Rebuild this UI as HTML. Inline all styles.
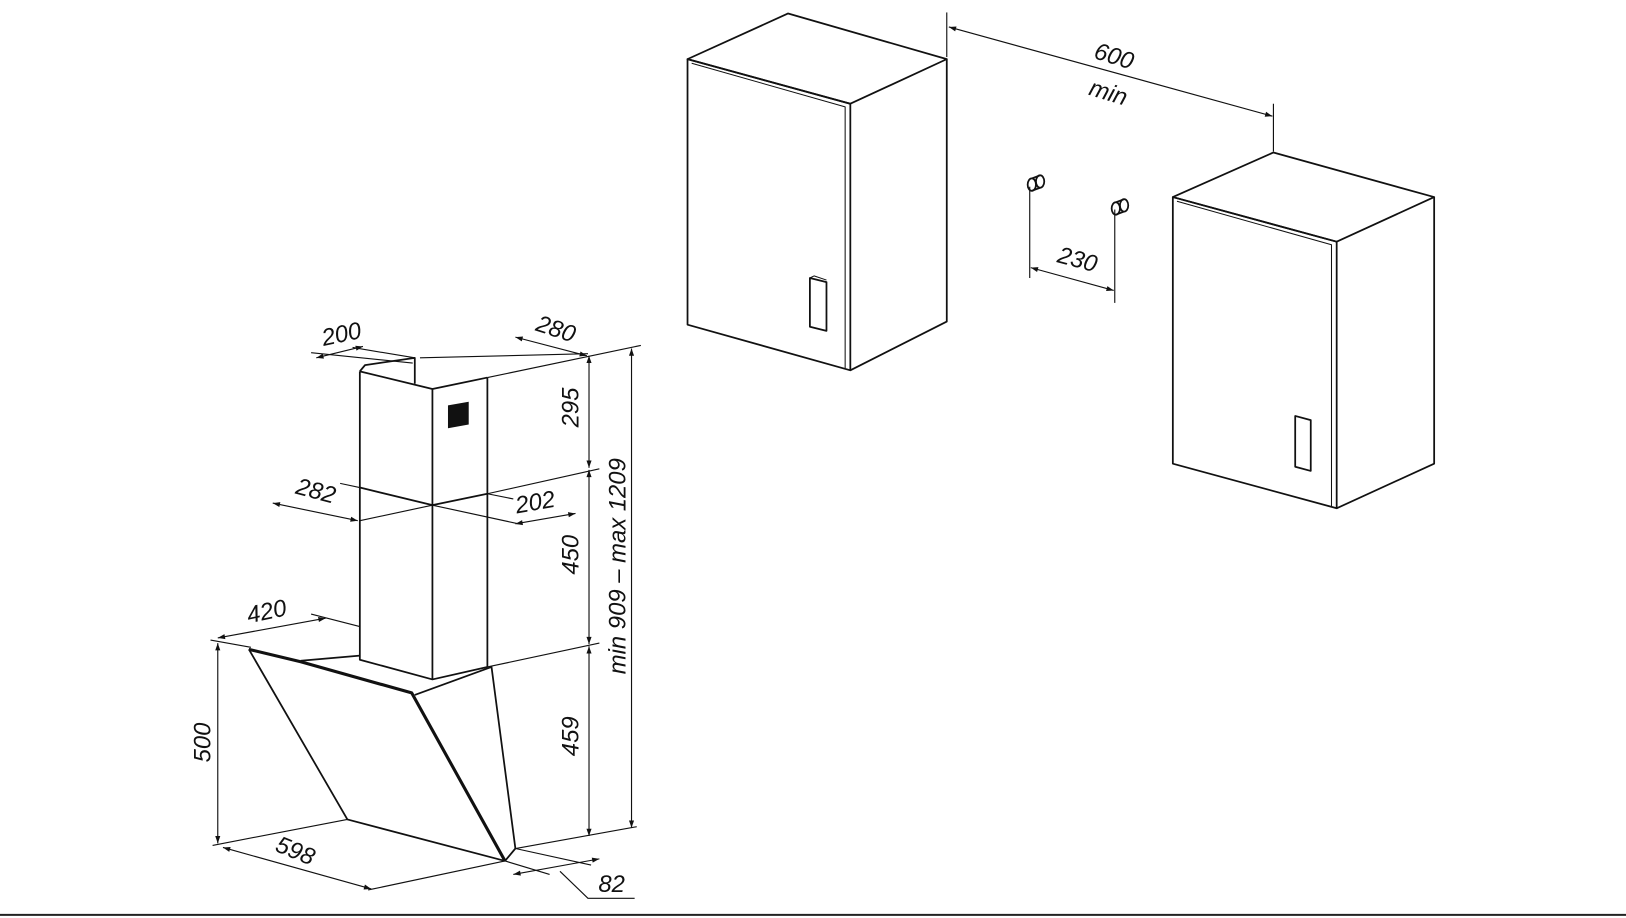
<!DOCTYPE html>
<html><head><meta charset="utf-8"><style>
html,body{margin:0;padding:0;background:#fff;overflow:hidden}
svg{display:block}
text{font-family:"Liberation Sans Narrow","Liberation Sans",sans-serif;font-style:italic;fill:#111;font-size:23px}
</style></head><body>
<svg width="1626" height="918" viewBox="0 0 1568 885" preserveAspectRatio="none" xmlns="http://www.w3.org/2000/svg">
<defs>
<marker id="a" viewBox="0 0 10 10" refX="10" refY="5" markerWidth="11" markerHeight="7" orient="auto-start-reverse" markerUnits="userSpaceOnUse"><path d="M0,1.5 L10,5 L0,8.5 z" fill="#111"/></marker>
</defs>
<g fill="none" stroke="#111" stroke-width="1.7" stroke-linejoin="round">
<!-- Cabinet 1 -->
<path d="M663,57 L760,13 L913,57 L820,100 Z"/>
<path d="M663,57 L820,100 L820,357 L663,313 Z"/>
<path d="M913,57 L913,310 L820,357"/>
<path d="M667,61 L815,103 L815,355" stroke-width="1"/>
<path d="M781,268 L797,272 L797,319 L781,315 Z"/>
<path d="M781,268 L785,266 L797,270" stroke-width="1"/>
<!-- Cabinet 2 -->
<path d="M1131,190 L1228,147 L1383,190 L1289,233 Z"/>
<path d="M1131,190 L1289,233 L1289,490 L1131,447 Z"/>
<path d="M1383,190 L1383,447 L1289,490"/>
<path d="M1135,194 L1284,236 L1284,488" stroke-width="1"/>
<path d="M1249,401 L1264,405 L1264,454 L1249,450 Z"/>
<g stroke-width="1.1">
<line x1="913" y1="12" x2="913" y2="55"/>
<line x1="1228" y1="100" x2="1228" y2="146"/>
<line x1="915" y1="26" x2="1227" y2="112" marker-start="url(#a)" marker-end="url(#a)"/>
<line x1="993" y1="180" x2="993" y2="268"/>
<line x1="1075" y1="202" x2="1075" y2="292"/>
<line x1="994" y1="258" x2="1074" y2="280" marker-start="url(#a)" marker-end="url(#a)"/>
</g>
<ellipse cx="995" cy="178" rx="4" ry="6"/><path d="M995,172 L1003,169 M995,184 L1003,181"/><ellipse cx="1003" cy="175" rx="4" ry="6"/>
<ellipse cx="1076" cy="201" rx="4" ry="6"/><path d="M1076,195 L1084,192 M1076,207 L1084,204"/><ellipse cx="1084" cy="198" rx="4" ry="6"/>

<!-- Chimney -->
<path d="M347,358 L417,375 L470,364"/>
<path d="M347,358 L352,352 L400,345 L400,370"/>
<path d="M347,358 L347,636 L417,655 L470,643"/>
<line x1="417" y1="375" x2="417" y2="655"/>
<line x1="470" y1="364" x2="470" y2="643"/>
<path d="M347,470 L417,487 L470,476"/>
<g stroke-width="1.1">
<line x1="470" y1="364" x2="618" y2="333"/>
<line x1="470" y1="476" x2="578" y2="452"/>
<line x1="470" y1="643" x2="578" y2="620"/>
<line x1="497" y1="818" x2="614" y2="797"/>
<line x1="405" y1="345" x2="567" y2="341"/>
<line x1="300" y1="340" x2="398" y2="350"/>
<line x1="340" y1="335" x2="400" y2="345"/>
<line x1="305" y1="345" x2="350" y2="334" marker-start="url(#a)" marker-end="url(#a)"/>
<line x1="497" y1="325" x2="566" y2="343" marker-start="url(#a)" marker-end="url(#a)"/>
<line x1="417" y1="487" x2="500" y2="505"/>
<line x1="347" y1="502" x2="417" y2="487"/>
<line x1="263" y1="485" x2="345" y2="502" marker-start="url(#a)" marker-end="url(#a)"/>
<line x1="347" y1="470" x2="328" y2="466"/>
<line x1="470" y1="476" x2="495" y2="481"/>
<line x1="497" y1="505" x2="555" y2="495" marker-start="url(#a)" marker-end="url(#a)"/>
<line x1="568" y1="343" x2="568" y2="451" marker-start="url(#a)" marker-end="url(#a)"/>
<line x1="568" y1="453" x2="568" y2="621" marker-start="url(#a)" marker-end="url(#a)"/>
<line x1="568" y1="623" x2="568" y2="806" marker-start="url(#a)" marker-end="url(#a)"/>
<line x1="609" y1="336" x2="609" y2="798" marker-start="url(#a)" marker-end="url(#a)"/>
<line x1="203" y1="617" x2="242" y2="624"/>
<line x1="210" y1="620" x2="210" y2="813" marker-start="url(#a)" marker-end="url(#a)"/>
<line x1="205" y1="815" x2="335" y2="790"/>
<line x1="210" y1="615" x2="314" y2="596" marker-start="url(#a)" marker-end="url(#a)"/>
<line x1="300" y1="592" x2="347" y2="604"/>
<line x1="215" y1="817" x2="358" y2="857" marker-start="url(#a)" marker-end="url(#a)"/>
<line x1="355" y1="858" x2="487" y2="830"/>
<line x1="487" y1="830" x2="530" y2="843"/>
<line x1="497" y1="818" x2="570" y2="834"/>
<line x1="495" y1="843" x2="578" y2="828" marker-start="url(#a)" marker-end="url(#a)"/>
<polyline points="540,840 567,866 612,866"/>
</g>
<!-- Hood -->
<path d="M240,626 L335,790 L487,830"/>
<path d="M240,626 L290,638 L397,668 L487,830" stroke-width="3"/>
<path d="M290,637 L347,632"/>
<path d="M400,670 L474,643 L497,818 L487,830"/>
</g>
<rect x="432" y="390" width="20" height="22" fill="#111" transform="skewY(-10) translate(0,77)"/>
<line x1="0" y1="882" x2="1568" y2="882" stroke="#222" stroke-width="2"/>
<text x="310" y="330" transform="rotate(-12 328 322)">200</text>
<text x="517" y="325" transform="rotate(18 537 317)">280</text>
<text x="285" y="481" transform="rotate(15 305 475)">282</text>
<text x="497" y="492" transform="rotate(-10 515 485)">202</text>
<text x="238" y="597" transform="rotate(-12 258 590)">420</text>
<text x="265" y="828" transform="rotate(22 285 822)">598</text>
<text x="577" y="860">82</text>
<text x="178" y="726" transform="rotate(-90 195 718)">500</text>
<text x="533" y="403" transform="rotate(-90 550 395)">295</text>
<text x="533" y="545" transform="rotate(-90 550 537)">450</text>
<text x="533" y="720" transform="rotate(-90 550 712)">459</text>
<text x="505" y="568" transform="rotate(-90 595 560)">min 909 – max 1209</text>
<text x="1055" y="62" transform="rotate(17 1075 55)">600</text>
<text x="1050" y="96" transform="rotate(17 1066 90)">min</text>
<text x="1020" y="258" transform="rotate(15 1040 250)">230</text>
</svg>
</body></html>
